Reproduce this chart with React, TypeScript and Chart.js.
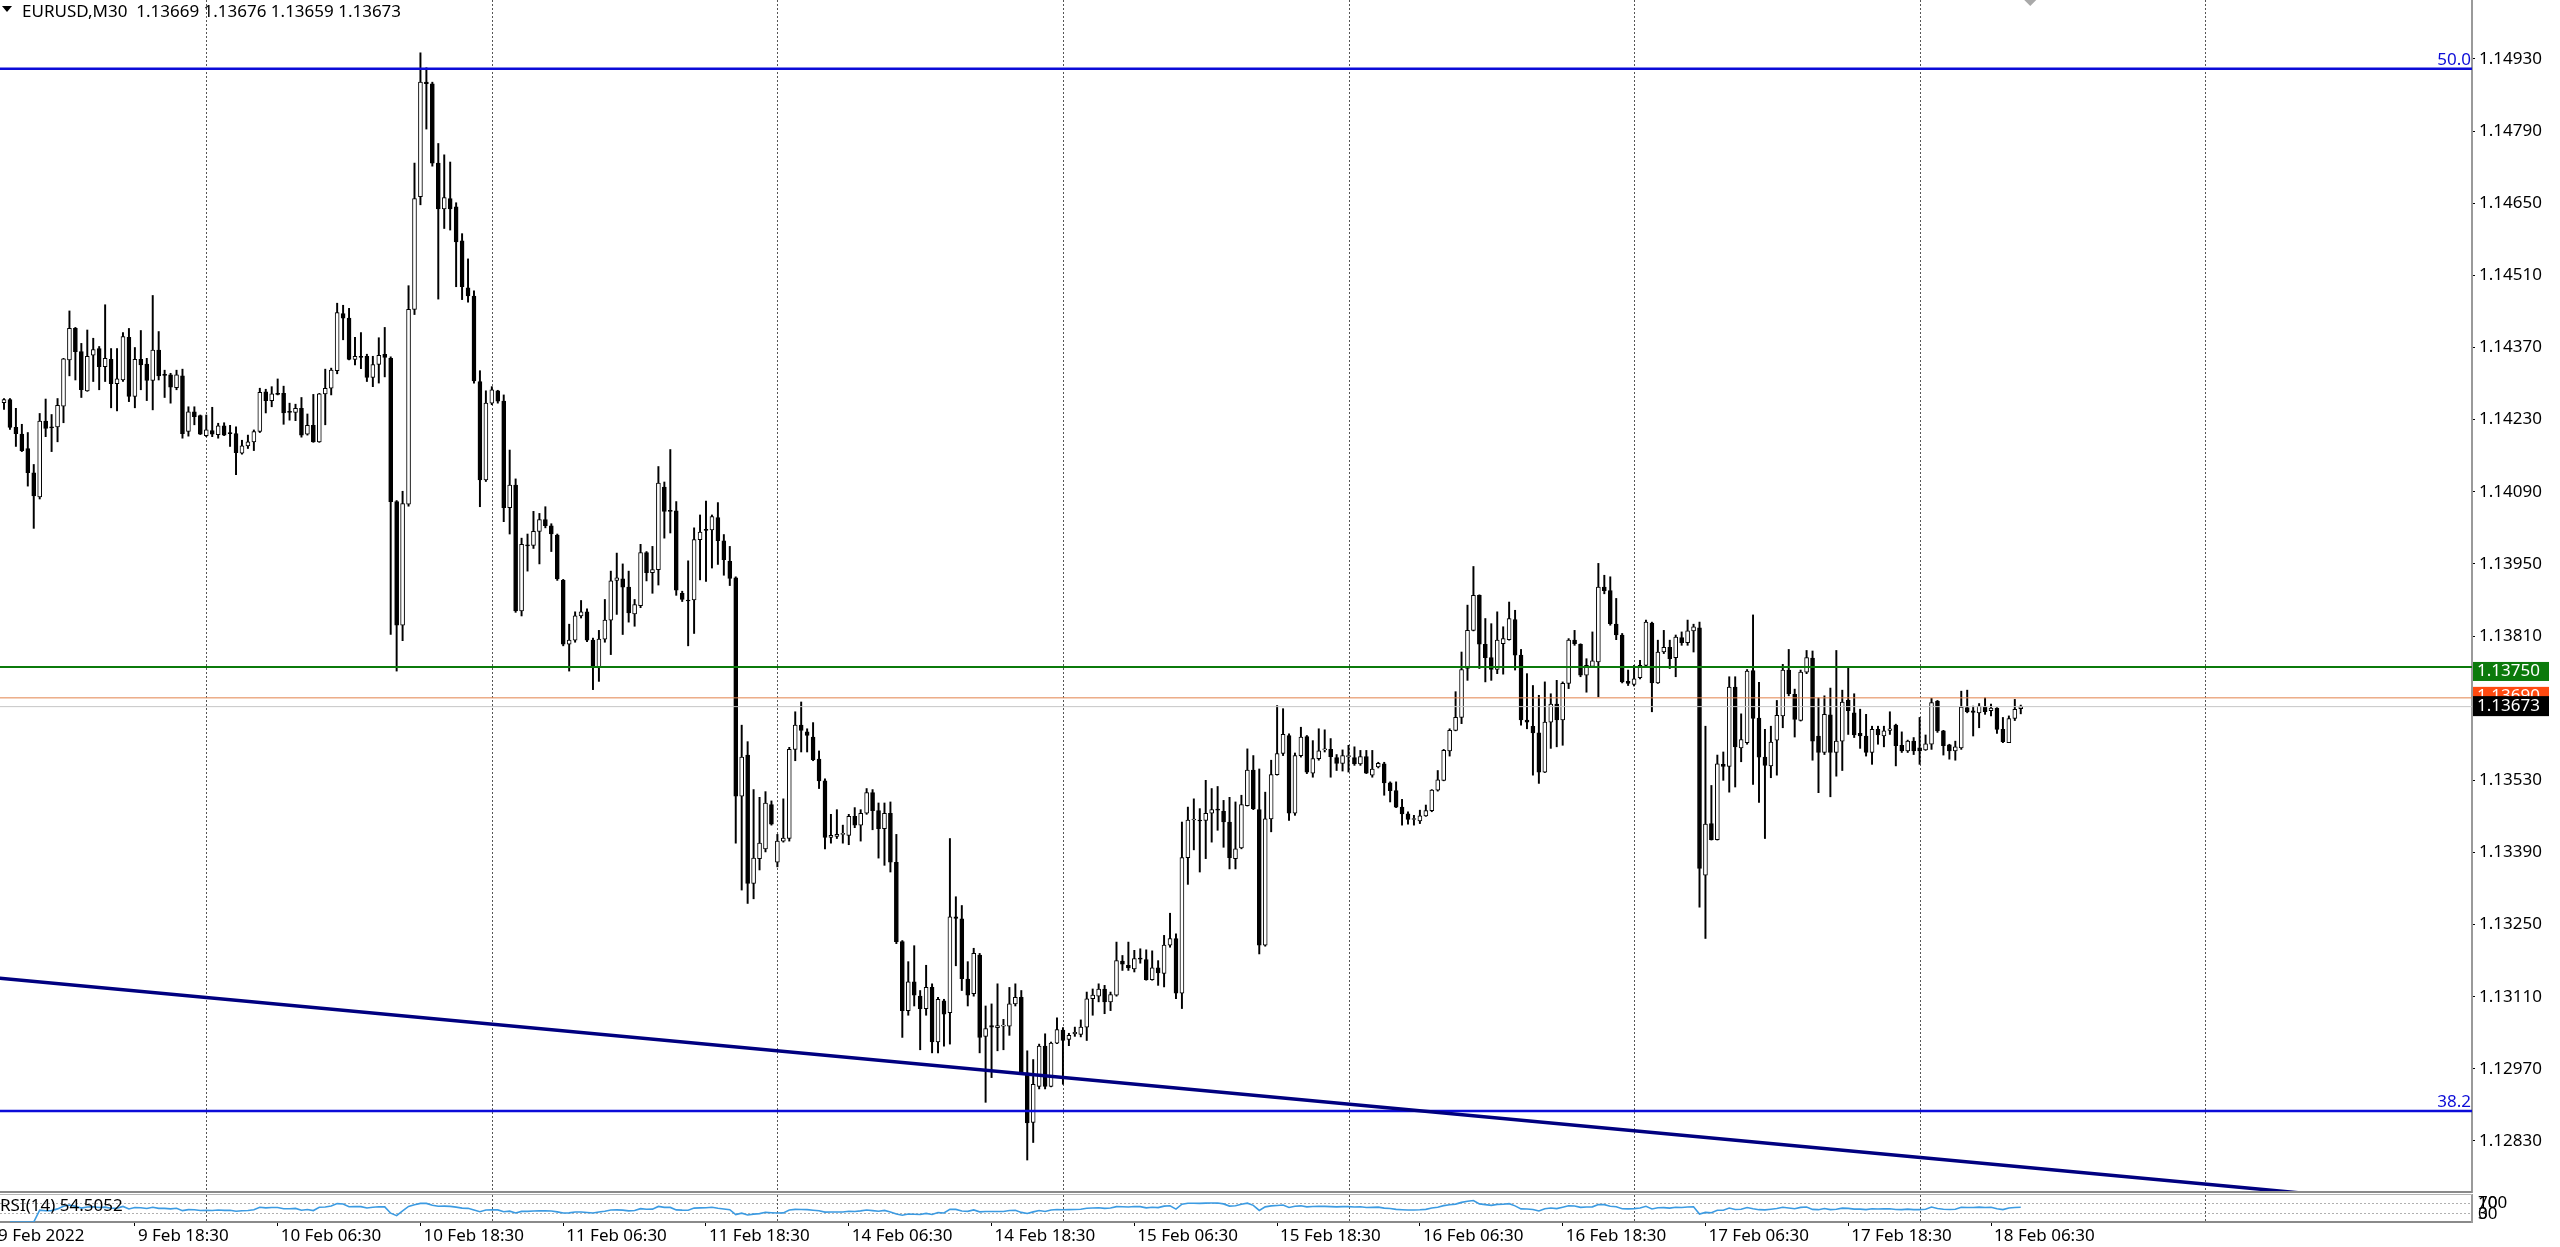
import React, { useEffect, useRef } from "react";
import { Chart, registerables } from "chart.js";

Chart.register(...registerables);

const FONT = '"Noto Sans", "DejaVu Sans", sans-serif';

// ---- EURUSD M30 candles (bar 0 = 9 Feb 2022 07:30 ... bar 339 = 18 Feb 09:00) ----
const opens = [
  1.14263,1.14269,1.14215,1.14202,1.14174,1.14127,1.14080,1.14227,1.14216,1.14216,
  1.14256,1.14346,1.14407,1.14362,1.14286,1.14355,1.14368,1.14333,1.14347,1.14300,
  1.14307,1.14390,1.14275,1.14347,1.14338,1.14306,1.14365,1.14317,1.14317,1.14292,
  1.14315,1.14207,1.14245,1.14238,1.14199,1.14209,1.14201,1.14218,1.14204,1.14203,
  1.14165,1.14179,1.14187,1.14207,1.14284,1.14267,1.14280,1.14281,1.14245,1.14244,
  1.14252,1.14202,1.14219,1.14187,1.14280,1.14291,1.14325,1.14436,1.14427,1.14347,
  1.14353,1.14353,1.14312,1.14337,1.14357,1.14349,1.14071,1.13831,1.14066,1.14444,
  1.14663,1.14885,1.14882,1.14728,1.14639,1.14659,1.14643,1.14577,1.14486,1.14470,
  1.14304,1.14113,1.14262,1.14286,1.14266,1.14059,1.14103,1.13859,1.13986,1.13986,
  1.14013,1.14036,1.14024,1.14006,1.13918,1.13794,1.13802,1.13849,1.13857,1.13802,
  1.13750,1.13804,1.13841,1.13918,1.13921,1.13905,1.13853,1.13869,1.13972,1.13933,
  1.13939,1.14099,1.14054,1.14053,1.13893,1.13879,1.13880,1.13997,1.14016,1.14016,
  1.14040,1.13995,1.13955,1.13923,1.13499,1.13579,1.13330,1.13378,1.13397,1.13483,
  1.13371,1.13412,1.13417,1.13590,1.13637,1.13624,1.13614,1.13571,1.13529,1.13419,
  1.13421,1.13425,1.13423,1.13460,1.13443,1.13466,1.13506,1.13471,1.13436,1.13466,
  1.13371,1.13217,1.13083,1.13139,1.13111,1.13087,1.13128,1.13022,1.13102,1.13079,
  1.13265,1.13261,1.13144,1.13116,1.13191,1.13033,1.13054,1.13050,1.13053,1.13053,
  1.13096,1.13109,1.12962,1.12866,1.12936,1.13014,1.12936,1.13020,1.13045,1.13027,
  1.13038,1.13037,1.13051,1.13106,1.13111,1.13125,1.13100,1.13113,1.13179,1.13171,
  1.13164,1.13184,1.13182,1.13143,1.13166,1.13155,1.13210,1.13223,1.13117,1.13380,
  1.13453,1.13453,1.13452,1.13466,1.13473,1.13470,1.13449,1.13378,1.13399,1.13481,
  1.13550,1.13473,1.13210,1.13455,1.13541,1.13582,1.13617,1.13466,1.13578,1.13615,
  1.13544,1.13572,1.13589,1.13590,1.13574,1.13563,1.13576,1.13574,1.13562,1.13576,
  1.13540,1.13556,1.13562,1.13525,1.13510,1.13478,1.13465,1.13454,1.13451,1.13461,
  1.13471,1.13511,1.13530,1.13587,1.13627,1.13652,1.13747,1.13821,1.13889,1.13794,
  1.13768,1.13745,1.13795,1.13803,1.13842,1.13773,1.13647,1.13635,1.13622,1.13546,
  1.13643,1.13678,1.13647,1.13718,1.13802,1.13794,1.13734,1.13751,1.13760,1.13905,
  1.13898,1.13833,1.13812,1.13722,1.13716,1.13729,1.13753,1.13835,1.13719,1.13779,
  1.13788,1.13768,1.13807,1.13797,1.13820,1.13826,1.13346,1.13446,1.13415,1.13561,
  1.13557,1.13711,1.13593,1.13603,1.13743,1.13651,1.13575,1.13558,1.13608,1.13655,
  1.13744,1.13697,1.13646,1.13740,1.13767,1.13616,1.13584,1.13657,1.13584,1.13606,
  1.13685,1.13661,1.13621,1.13616,1.13584,1.13629,1.13616,1.13627,1.13637,1.13598,
  1.13587,1.13606,1.13593,1.13589,1.13600,1.13684,1.13626,1.13599,1.13587,1.13593,
  1.13671,1.13665,1.13661,1.13672,1.13665,1.13670,1.13629,1.13603,1.13650,1.13669,
];

const highs = [
  1.14271,1.14271,1.14252,1.14221,1.14205,1.14143,1.14242,1.14270,1.14240,1.14271,
  1.14349,1.14441,1.14409,1.14378,1.14404,1.14388,1.14372,1.14453,1.14368,1.14368,
  1.14399,1.14407,1.14370,1.14403,1.14349,1.14471,1.14401,1.14326,1.14320,1.14326,
  1.14328,1.14255,1.14255,1.14239,1.14239,1.14254,1.14223,1.14224,1.14219,1.14216,
  1.14190,1.14200,1.14210,1.14291,1.14289,1.14294,1.14309,1.14295,1.14262,1.14260,
  1.14273,1.14241,1.14279,1.14281,1.14328,1.14330,1.14456,1.14452,1.14446,1.14390,
  1.14399,1.14357,1.14353,1.14389,1.14409,1.14352,1.14073,1.14091,1.14490,1.14728,
  1.14942,1.14913,1.14885,1.14766,1.14744,1.14730,1.14651,1.14591,1.14542,1.14480,
  1.14325,1.14286,1.14294,1.14287,1.14278,1.14171,1.14115,1.14000,1.14008,1.14052,
  1.14048,1.14061,1.14028,1.14008,1.13920,1.13833,1.13857,1.13879,1.13863,1.13806,
  1.13821,1.13881,1.13936,1.13971,1.13950,1.13936,1.13881,1.13988,1.13974,1.13984,
  1.14139,1.14109,1.14172,1.14071,1.13897,1.13956,1.14020,1.14045,1.14072,1.14045,
  1.14069,1.14007,1.13984,1.13925,1.13637,1.13605,1.13512,1.13497,1.13508,1.13490,
  1.13425,1.13494,1.13594,1.13663,1.13682,1.13630,1.13642,1.13587,1.13533,1.13464,
  1.13473,1.13443,1.13464,1.13477,1.13473,1.13514,1.13512,1.13486,1.13486,1.13488,
  1.13425,1.13219,1.13178,1.13209,1.13122,1.13171,1.13135,1.13109,1.13105,1.13417,
  1.13304,1.13287,1.13178,1.13204,1.13194,1.13092,1.13096,1.13135,1.13066,1.13128,
  1.13135,1.13122,1.13005,1.12988,1.13018,1.13038,1.13022,1.13069,1.13050,1.13039,
  1.13051,1.13065,1.13119,1.13125,1.13135,1.13132,1.13119,1.13216,1.13190,1.13216,
  1.13200,1.13203,1.13201,1.13199,1.13180,1.13229,1.13272,1.13232,1.13449,1.13478,
  1.13494,1.13475,1.13530,1.13514,1.13518,1.13491,1.13497,1.13488,1.13501,1.13591,
  1.13578,1.13552,1.13507,1.13569,1.13675,1.13669,1.13620,1.13583,1.13633,1.13617,
  1.13607,1.13630,1.13628,1.13611,1.13580,1.13589,1.13598,1.13595,1.13588,1.13588,
  1.13588,1.13565,1.13565,1.13527,1.13527,1.13493,1.13469,1.13462,1.13472,1.13482,
  1.13512,1.13549,1.13590,1.13630,1.13702,1.13779,1.13870,1.13945,1.13890,1.13844,
  1.13834,1.13857,1.13828,1.13876,1.13860,1.13784,1.13737,1.13714,1.13695,1.13721,
  1.13698,1.13724,1.13721,1.13805,1.13821,1.13795,1.13766,1.13818,1.13951,1.13928,
  1.13925,1.13883,1.13815,1.13744,1.13753,1.13763,1.13841,1.13837,1.13802,1.13821,
  1.13802,1.13812,1.13818,1.13841,1.13833,1.13837,1.13635,1.13520,1.13579,1.13585,
  1.13731,1.13731,1.13659,1.13745,1.13851,1.13720,1.13629,1.13635,1.13685,1.13755,
  1.13784,1.13707,1.13744,1.13782,1.13781,1.13690,1.13694,1.13709,1.13782,1.13705,
  1.13749,1.13698,1.13668,1.13658,1.13635,1.13635,1.13635,1.13663,1.13639,1.13624,
  1.13608,1.13613,1.13652,1.13618,1.13689,1.13685,1.13627,1.13600,1.13606,1.13703,
  1.13705,1.13674,1.13679,1.13690,1.13678,1.13671,1.13652,1.13655,1.13687,1.13676,
];

const lows = [
  1.14250,1.14211,1.14178,1.14168,1.14101,1.14019,1.14076,1.14197,1.14168,1.14187,
  1.14224,1.14315,1.14307,1.14273,1.14285,1.14304,1.14288,1.14304,1.14253,1.14247,
  1.14304,1.14265,1.14253,1.14288,1.14267,1.14249,1.14307,1.14273,1.14262,1.14288,
  1.14194,1.14198,1.14220,1.14201,1.14197,1.14197,1.14194,1.14199,1.14178,1.14123,
  1.14163,1.14174,1.14170,1.14205,1.14243,1.14255,1.14278,1.14221,1.14229,1.14228,
  1.14196,1.14200,1.14186,1.14186,1.14220,1.14278,1.14319,1.14385,1.14346,1.14336,
  1.14329,1.14304,1.14294,1.14301,1.14313,1.13813,1.13742,1.13801,1.14062,1.14434,
  1.14647,1.14794,1.14722,1.14464,1.14601,1.14598,1.14488,1.14463,1.14458,1.14301,
  1.14061,1.14110,1.14259,1.14262,1.14032,1.14008,1.13856,1.13849,1.13936,1.13980,
  1.13950,1.14020,1.13974,1.13918,1.13791,1.13742,1.13798,1.13845,1.13799,1.13706,
  1.13722,1.13798,1.13774,1.13852,1.13813,1.13837,1.13829,1.13865,1.13917,1.13893,
  1.13909,1.14000,1.14010,1.13889,1.13877,1.13791,1.13815,1.13919,1.13916,1.13942,
  1.13949,1.13928,1.13908,1.13408,1.13317,1.13291,1.13300,1.13356,1.13391,1.13443,
  1.13362,1.13410,1.13412,1.13568,1.13585,1.13585,1.13568,1.13514,1.13397,1.13408,
  1.13417,1.13408,1.13405,1.13438,1.13412,1.13464,1.13434,1.13379,1.13365,1.13352,
  1.13213,1.13031,1.13074,1.13092,1.13007,1.13074,1.13001,1.13001,1.13014,1.13018,
  1.13170,1.13122,1.13092,1.13111,1.13001,1.12905,1.12953,1.13005,1.13007,1.13035,
  1.13092,1.12960,1.12793,1.12827,1.12931,1.12931,1.12935,1.13019,1.12940,1.13015,
  1.13033,1.13032,1.13025,1.13074,1.13100,1.13077,1.13083,1.13111,1.13161,1.13161,
  1.13158,1.13175,1.13142,1.13142,1.13132,1.13129,1.13206,1.13106,1.13087,1.13328,
  1.13395,1.13352,1.13378,1.13410,1.13433,1.13400,1.13358,1.13358,1.13397,1.13480,
  1.13473,1.13193,1.13208,1.13430,1.13540,1.13578,1.13452,1.13462,1.13575,1.13543,
  1.13536,1.13569,1.13585,1.13536,1.13549,1.13548,1.13546,1.13559,1.13559,1.13543,
  1.13536,1.13554,1.13501,1.13488,1.13477,1.13443,1.13445,1.13443,1.13446,1.13460,
  1.13469,1.13509,1.13529,1.13577,1.13626,1.13640,1.13724,1.13820,1.13747,1.13721,
  1.13724,1.13737,1.13736,1.13802,1.13744,1.13637,1.13630,1.13540,1.13524,1.13545,
  1.13592,1.13595,1.13598,1.13708,1.13792,1.13731,1.13701,1.13750,1.13692,1.13892,
  1.13831,1.13803,1.13719,1.13714,1.13713,1.13727,1.13750,1.13663,1.13718,1.13776,
  1.13747,1.13731,1.13792,1.13792,1.13779,1.13284,1.13223,1.13414,1.13414,1.13530,
  1.13507,1.13517,1.13566,1.13600,1.13522,1.13487,1.13417,1.13535,1.13540,1.13632,
  1.13694,1.13614,1.13645,1.13737,1.13569,1.13506,1.13580,1.13498,1.13538,1.13549,
  1.13619,1.13613,1.13592,1.13577,1.13561,1.13600,1.13595,1.13619,1.13558,1.13584,
  1.13584,1.13580,1.13561,1.13588,1.13590,1.13623,1.13579,1.13571,1.13569,1.13590,
  1.13661,1.13616,1.13632,1.13658,1.13655,1.13621,1.13603,1.13603,1.13646,1.13659,
];

const closes = [
  1.14269,1.14215,1.14203,1.14170,1.14127,1.14082,1.14227,1.14213,1.14214,1.14258,
  1.14348,1.14407,1.14362,1.14288,1.14353,1.14366,1.14333,1.14349,1.14300,1.14309,
  1.14391,1.14275,1.14347,1.14336,1.14306,1.14365,1.14315,1.14316,1.14293,1.14317,
  1.14203,1.14245,1.14236,1.14202,1.14210,1.14202,1.14218,1.14200,1.14203,1.14166,
  1.14179,1.14187,1.14207,1.14283,1.14267,1.14280,1.14279,1.14243,1.14244,1.14252,
  1.14200,1.14219,1.14187,1.14280,1.14291,1.14326,1.14438,1.14427,1.14347,1.14353,
  1.14351,1.14312,1.14337,1.14355,1.14351,1.14071,1.13831,1.14067,1.14444,1.14659,
  1.14885,1.14882,1.14728,1.14639,1.14661,1.14639,1.14575,1.14488,1.14470,1.14305,
  1.14113,1.14262,1.14288,1.14266,1.14059,1.14103,1.13859,1.13988,1.13985,1.14013,
  1.14036,1.14024,1.14008,1.13921,1.13794,1.13802,1.13849,1.13857,1.13802,1.13750,
  1.13804,1.13841,1.13917,1.13923,1.13905,1.13855,1.13871,1.13972,1.13933,1.13939,
  1.14107,1.14052,1.14052,1.13899,1.13881,1.13878,1.13997,1.14012,1.14015,1.14042,
  1.13995,1.13958,1.13922,1.13499,1.13575,1.13330,1.13379,1.13408,1.13486,1.13445,
  1.13412,1.13418,1.13590,1.13637,1.13627,1.13617,1.13570,1.13529,1.13419,1.13423,
  1.13425,1.13426,1.13460,1.13443,1.13466,1.13506,1.13471,1.13436,1.13466,1.13371,
  1.13217,1.13083,1.13139,1.13113,1.13087,1.13128,1.13022,1.13105,1.13076,1.13265,
  1.13262,1.13145,1.13113,1.13194,1.13031,1.13048,1.13051,1.13054,1.13054,1.13096,
  1.13109,1.12962,1.12865,1.12940,1.13014,1.12936,1.13020,1.13046,1.13025,1.13035,
  1.13041,1.13051,1.13106,1.13113,1.13125,1.13100,1.13114,1.13180,1.13173,1.13166,
  1.13184,1.13183,1.13143,1.13166,1.13156,1.13210,1.13223,1.13117,1.13380,1.13453,
  1.13454,1.13451,1.13466,1.13473,1.13472,1.13449,1.13380,1.13397,1.13483,1.13550,
  1.13475,1.13210,1.13455,1.13541,1.13582,1.13619,1.13466,1.13578,1.13614,1.13546,
  1.13572,1.13587,1.13590,1.13576,1.13563,1.13578,1.13578,1.13562,1.13576,1.13544,
  1.13552,1.13563,1.13525,1.13510,1.13478,1.13465,1.13454,1.13455,1.13461,1.13471,
  1.13511,1.13531,1.13588,1.13627,1.13652,1.13745,1.13821,1.13889,1.13794,1.13768,
  1.13745,1.13802,1.13805,1.13844,1.13773,1.13647,1.13643,1.13622,1.13546,1.13643,
  1.13678,1.13647,1.13718,1.13802,1.13795,1.13734,1.13753,1.13762,1.13905,1.13898,
  1.13834,1.13812,1.13721,1.13718,1.13727,1.13753,1.13837,1.13719,1.13779,1.13788,
  1.13766,1.13808,1.13797,1.13820,1.13828,1.13359,1.13445,1.13415,1.13562,1.13557,
  1.13711,1.13595,1.13609,1.13742,1.13650,1.13575,1.13559,1.13604,1.13656,1.13744,
  1.13698,1.13648,1.13740,1.13768,1.13606,1.13584,1.13658,1.13584,1.13606,1.13682,
  1.13665,1.13618,1.13616,1.13584,1.13629,1.13618,1.13626,1.13630,1.13597,1.13587,
  1.13606,1.13587,1.13587,1.13601,1.13681,1.13626,1.13597,1.13587,1.13595,1.13672,
  1.13663,1.13662,1.13674,1.13663,1.13670,1.13629,1.13605,1.13650,1.13668,1.13673,
];

// ---- axes, labels, objects ----
const priceTicks = [
  1.1283, 1.1297, 1.1311, 1.1325, 1.1339, 1.1353, 1.1367, 1.1381,
  1.1395, 1.1409, 1.1423, 1.1437, 1.1451, 1.1465, 1.1479, 1.1493,
];
const timeLabels = [
  "9 Feb 2022", "9 Feb 18:30", "10 Feb 06:30", "10 Feb 18:30", "11 Feb 06:30",
  "11 Feb 18:30", "14 Feb 06:30", "14 Feb 18:30", "15 Feb 06:30", "15 Feb 18:30",
  "16 Feb 06:30", "16 Feb 18:30", "17 Feb 06:30", "17 Feb 18:30", "18 Feb 06:30",
];
const timeLabelBars = [-1.5, 22, 46, 70, 94, 118, 142, 166, 190, 214, 238, 262, 286, 310, 334];
const gridBars = [34, 82, 130, 178, 226, 274, 322, 370];
const fibLevels = [1.14911, 1.12888];
const fibNames = ["50.0", "38.2"];
const resistanceLevel = 1.1375;
const orangeLevel = 1.1369;
const bidLevel = 1.13673;
const trendBars = [-1, 400];
const trendPrices = [1.13146, 1.12714];
const rsiLevelLines = [30, 70];
const rsiAxisTicks = [0, 30, 70, 100];
const symbolTitle = "EURUSD,M30";
const ohlcTitle = [1.13669, 1.13676, 1.13659, 1.13673];
const rsiTitle = "RSI(14) 54.5052";

const X_MIN = -0.6724;
const X_MAX = 414.85;
const Y_MIN = 1.12729;
const Y_MAX = 1.150445;

const FIB_BLUE = "#0c0cd8";
const GREEN = "#0b7a0b";
const ORANGE_LINE = "#e2834c";
const ORANGE_BOX = "#ff4a10";
const BID_GREY = "#c6c6c6";
const TREND = "#000080";
const GRID = "#555555";

function buildRsi(c: number[], period: number) {
  const out: { x: number; y: number }[] = [];
  let ag = 0;
  let al = 0;
  for (let i = 1; i < c.length; i++) {
    const d = c[i] - c[i - 1];
    const g = d > 0 ? d : 0;
    const l = d < 0 ? -d : 0;
    if (i <= period) {
      ag += (g - ag) / i;
      al += (l - al) / i;
    } else {
      ag = (ag * (period - 1) + g) / period;
      al = (al * (period - 1) + l) / period;
    }
    const v = al === 0 ? 100 : 100 - 100 / (1 + ag / al);
    out.push({ x: i, y: v });
  }
  return out;
}

function levelLine(v: number) {
  return [
    { x: X_MIN, y: v },
    { x: X_MAX, y: v },
  ];
}

function drawVerticalGrid(chart: any) {
  const { ctx, chartArea, scales } = chart;
  ctx.save();
  ctx.strokeStyle = GRID;
  ctx.lineWidth = 1;
  ctx.setLineDash([2, 2]);
  for (const b of gridBars) {
    const x = Math.round(scales.x.getPixelForValue(b)) + 0.5;
    ctx.beginPath();
    ctx.moveTo(x, chartArea.top);
    ctx.lineTo(x, chartArea.bottom);
    ctx.stroke();
  }
  ctx.restore();
}

const mainDecor = {
  id: "mainDecor",
  beforeDatasetsDraw(chart: any) {
    drawVerticalGrid(chart);
  },
  afterDraw(chart: any) {
    const { ctx, chartArea, scales } = chart;
    const y = scales.y;
    ctx.save();
    // pane bottom border
    ctx.fillStyle = "#8a8a8a";
    ctx.fillRect(0, chartArea.bottom - 2, chartArea.right, 2);

    // header
    ctx.fillStyle = "#000";
    ctx.beginPath();
    ctx.moveTo(2, 6);
    ctx.lineTo(12, 6);
    ctx.lineTo(7, 12);
    ctx.closePath();
    ctx.fill();
    ctx.font = `17px ${FONT}`;
    ctx.textAlign = "left";
    ctx.textBaseline = "alphabetic";
    ctx.fillText(`${symbolTitle}  ${ohlcTitle.map((v) => v.toFixed(5)).join(" ")}`, 22, 17);

    // fibo level captions
    ctx.fillStyle = FIB_BLUE;
    ctx.textAlign = "right";
    fibLevels.forEach((v, k) => {
      ctx.fillText(fibNames[k], chartArea.right - 1, y.getPixelForValue(v) - 4);
    });

    // price boxes on the axis
    const box = (v: number, color: string, dTop: number, h: number, dText: number) => {
      const py = y.getPixelForValue(v);
      ctx.fillStyle = color;
      ctx.fillRect(chartArea.right + 1, py + dTop, 76, h);
      ctx.fillStyle = "#fff";
      ctx.textAlign = "left";
      ctx.textBaseline = "middle";
      ctx.fillText(v.toFixed(5), chartArea.right + 5, py + dText);
    };
    box(resistanceLevel, GREEN, -5, 19, 4.5);
    box(orangeLevel, ORANGE_BOX, -11, 19, -1.5);
    box(bidLevel, "#000", -10.5, 20, -0.5);

    // chart shift marker
    const sx = scales.x.getPixelForValue(340.6);
    ctx.fillStyle = "#a9a9a9";
    ctx.beginPath();
    ctx.moveTo(sx - 6, 0);
    ctx.lineTo(sx + 6, 0);
    ctx.lineTo(sx, 6);
    ctx.closePath();
    ctx.fill();
    ctx.restore();
  },
};

const rsiDecor = {
  id: "rsiDecor",
  beforeDatasetsDraw(chart: any) {
    drawVerticalGrid(chart);
  },
  afterDraw(chart: any) {
    const { ctx, chartArea, scales } = chart;
    ctx.save();
    ctx.fillStyle = "#b5b5b5";
    ctx.fillRect(0, 1, chartArea.right, 1);
    ctx.font = `17px ${FONT}`;
    ctx.fillStyle = "#000";
    ctx.textAlign = "left";
    ctx.textBaseline = "middle";
    ctx.fillText(rsiTitle, 0, chartArea.top + 11);
    for (const v of rsiAxisTicks) {
      let py = scales.y.getPixelForValue(v);
      py = Math.min(Math.max(py, chartArea.top + 8), chartArea.bottom - 8);
      ctx.fillText(String(v), chartArea.right + 6, py);
    }
    ctx.restore();
  },
};

export default function App() {
  const mainRef = useRef<HTMLCanvasElement>(null);
  const rsiRef = useRef<HTMLCanvasElement>(null);

  useEffect(() => {
    const isBull = (i: number) => closes[i] >= opens[i];
    const bodyData = opens.map((o, i) => ({ x: i, y: [o, closes[i]] }));
    const wickData = lows.map((l, i) => ({ x: i, y: [l, highs[i]] }));

    const main = new Chart(mainRef.current as HTMLCanvasElement, {
      type: "bar",
      data: {
        datasets: [
          {
            type: "line",
            label: "trend",
            data: trendBars.map((b, k) => ({ x: b, y: trendPrices[k] })),
            borderColor: TREND,
            borderWidth: 3.5,
            pointRadius: 0,
            order: 1,
          },
          {
            type: "line",
            label: "fib50",
            data: levelLine(fibLevels[0]),
            borderColor: FIB_BLUE,
            borderWidth: 2.5,
            pointRadius: 0,
            order: 2,
          },
          {
            type: "line",
            label: "fib382",
            data: levelLine(fibLevels[1]),
            borderColor: FIB_BLUE,
            borderWidth: 2.5,
            pointRadius: 0,
            order: 2,
          },
          {
            type: "line",
            label: "resistance",
            data: levelLine(resistanceLevel),
            borderColor: GREEN,
            borderWidth: 2,
            pointRadius: 0,
            order: 3,
          },
          {
            type: "line",
            label: "orange",
            data: levelLine(orangeLevel),
            borderColor: ORANGE_LINE,
            borderWidth: 1,
            pointRadius: 0,
            order: 4,
          },
          {
            type: "line",
            label: "bid",
            data: levelLine(bidLevel),
            borderColor: BID_GREY,
            borderWidth: 1,
            pointRadius: 0,
            order: 5,
          },
          {
            type: "bar",
            label: "bodies",
            data: bodyData,
            grouped: false,
            barThickness: 4,
            minBarLength: 1,
            borderWidth: 1,
            borderColor: "#000",
            borderSkipped: false,
            backgroundColor: (c: any) => (isBull(c.dataIndex) ? "#ffffff" : "#000000"),
            order: 10,
          },
          {
            type: "bar",
            label: "wicks",
            data: wickData,
            grouped: false,
            barThickness: 1.3,
            minBarLength: 1,
            borderWidth: 0,
            backgroundColor: "#000",
            order: 11,
          },
        ] as any,
      },
      options: {
        responsive: false,
        animation: false,
        events: [],
        layout: { padding: 0 },
        plugins: { legend: { display: false }, tooltip: { enabled: false } },
        scales: {
          x: {
            type: "linear",
            display: false,
            min: X_MIN,
            max: X_MAX,
            offset: false,
            grid: { display: false },
          },
          y: {
            type: "linear",
            position: "right",
            min: Y_MIN,
            max: Y_MAX,
            beginAtZero: false,
            afterBuildTicks: (s: any) => {
              s.ticks = priceTicks.map((v) => ({ value: v }));
            },
            afterFit: (s: any) => {
              s.width = 88;
              s.paddingTop = 0;
              s.paddingBottom = 0;
            },
            ticks: {
              autoSkip: false,
              padding: 4,
              color: "#000",
              font: { family: FONT, size: 17 },
              callback: (v: any) => Number(v).toFixed(5),
            },
            grid: {
              drawOnChartArea: false,
              drawTicks: true,
              tickLength: 3,
              tickColor: "#000",
            },
            border: { display: true, color: "#9a9a9a", width: 2 },
          },
        },
      } as any,
      plugins: [mainDecor],
    });

    const rsiChart = new Chart(rsiRef.current as HTMLCanvasElement, {
      type: "line",
      data: {
        datasets: [
          {
            label: "RSI",
            data: buildRsi(closes, 14),
            borderColor: "#3c9be2",
            borderWidth: 1.6,
            pointRadius: 0,
            tension: 0,
          },
        ],
      },
      options: {
        responsive: false,
        animation: false,
        events: [],
        layout: { padding: { top: 2, left: 0, right: 0, bottom: 0 } },
        plugins: { legend: { display: false }, tooltip: { enabled: false } },
        scales: {
          x: {
            type: "linear",
            position: "bottom",
            min: X_MIN,
            max: X_MAX,
            afterBuildTicks: (s: any) => {
              s.ticks = timeLabelBars.map((v) => ({ value: v }));
            },
            afterFit: (s: any) => {
              s.height = 25;
              s.paddingLeft = 0;
              s.paddingRight = 0;
            },
            ticks: {
              autoSkip: false,
              maxRotation: 0,
              minRotation: 0,
              align: "start",
              labelOffset: 3,
              padding: 0,
              color: "#000",
              font: { family: FONT, size: 17 },
              callback: (_v: any, i: number) => timeLabels[i],
            },
            grid: {
              drawOnChartArea: false,
              drawTicks: true,
              tickLength: 4,
              tickColor: "#000",
            },
            border: { display: true, color: "#8a8a8a", width: 2 },
          },
          y: {
            type: "linear",
            position: "right",
            min: 0,
            max: 100,
            afterBuildTicks: (s: any) => {
              s.ticks = rsiAxisTicks.map((v) => ({ value: v }));
            },
            afterFit: (s: any) => {
              s.width = 88;
              s.paddingTop = 0;
              s.paddingBottom = 0;
            },
            ticks: { display: false },
            grid: {
              drawTicks: false,
              lineWidth: 1,
              color: (c: any) =>
                c.tick && rsiLevelLines.includes(c.tick.value) ? "#b0b0b0" : "rgba(0,0,0,0)",
            },
            border: { display: true, color: "#9a9a9a", width: 2, dash: [2, 2] },
          },
        },
      } as any,
      plugins: [rsiDecor],
    });

    return () => {
      main.destroy();
      rsiChart.destroy();
    };
  }, []);

  return (
    <div
      style={{
        position: "fixed",
        left: 0,
        top: 0,
        width: 2560,
        height: 1247,
        background: "#ffffff",
        overflow: "hidden",
      }}
    >
      <canvas
        ref={mainRef}
        width={2560}
        height={1193}
        style={{ position: "absolute", left: 0, top: 0, width: 2560, height: 1193 }}
      />
      <canvas
        ref={rsiRef}
        width={2560}
        height={54}
        style={{ position: "absolute", left: 0, top: 1193, width: 2560, height: 54 }}
      />
    </div>
  );
}
